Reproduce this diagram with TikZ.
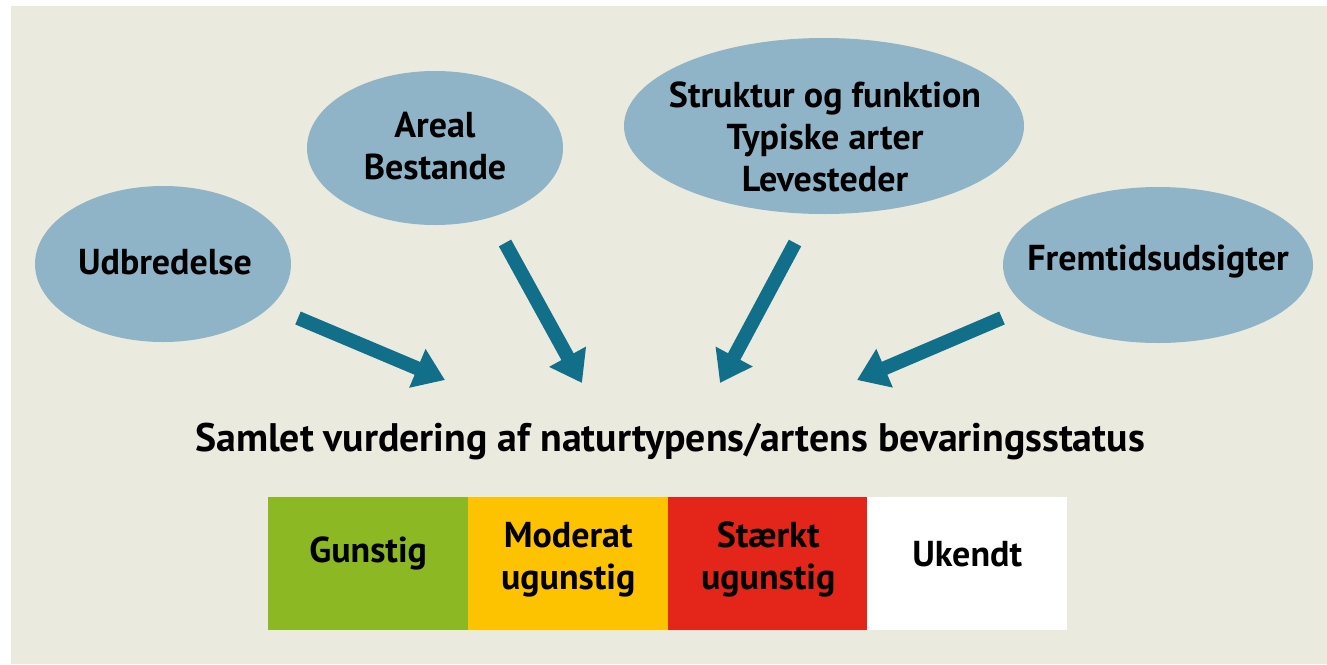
\documentclass[tikz,border=0pt]{standalone}
\usepackage{fontspec}
\setmainfont{PT Sans}
\usetikzlibrary{shapes.geometric,arrows.meta}
\definecolor{bgbeige}{HTML}{EBEADF}
\definecolor{blobblue}{HTML}{8FB3C7}
\definecolor{arrowteal}{HTML}{116F8A}
\definecolor{gunstig}{HTML}{8CB823}
\definecolor{moderat}{HTML}{FDC300}
\definecolor{staerkt}{HTML}{E3251A}
\begin{document}
\begin{tikzpicture}[x=1pt,y=-1pt,
  blob/.style={ellipse,fill=blobblue,inner sep=0pt},
  blobtext/.style={font=\bfseries\fontsize{36}{42}\selectfont,align=center,inner sep=0pt},
  pointer/.style={line width=14pt,draw=arrowteal,-{Triangle[length=30pt,width=40pt]}},
  statbox/.style={minimum width=200pt,minimum height=133pt,inner sep=0pt,anchor=north west}]
\useasboundingbox (0,0) rectangle (1327,664);
\fill[bgbeige] (11,6) rectangle (1327,664);
% ellipses
\node[blob,minimum width=256pt,minimum height=156pt] (udbr) at (163,264) {};
\node[blob,minimum width=256pt,minimum height=154pt] (areal) at (435,148) {};
\node[blob,minimum width=400pt,minimum height=176pt] (struk) at (824,126) {};
\node[blob,minimum width=310pt,minimum height=156pt] (fremt) at (1158,265) {};
\node[blobtext] (udbrtxt) at (165,262) {Udbredelse};
\node[blobtext] (arealtxt) at (435,146) {Areal\\Bestande};
\node[blobtext] (struktxt) at (825,137) {Struktur og funktion\\Typiske arter\\Levesteder};
\node[blobtext] (fremttxt) at (1158,262) {Fremtidsudsigter};
% arrows
\coordinate (s1) at (298,318); \coordinate (e1) at (445,380);
\coordinate (s2) at (505,243); \coordinate (e2) at (582,383);
\coordinate (s3) at (795,243); \coordinate (e3) at (720,383);
\coordinate (s4) at (1002,318); \coordinate (e4) at (857,380);
\foreach \i in {1,...,4}
  \draw[pointer] (s\i) -- (e\i);
% title
\node[blobtext,font=\bfseries\fontsize{39.8}{46}\selectfont] (samlet) at (670,442)
  {Samlet vurdering af naturtypens/artens bevaringsstatus};
% status boxes
\node[statbox,fill=gunstig] (gun) at (268,497) {};
\node[statbox,fill=moderat] (mod) at (468,497) {};
\node[statbox,fill=staerkt] (stae) at (668,497) {};
\node[statbox,fill=white] (uk) at (867,497) {};
\node[blobtext] at ([yshift=10pt]gun.center) {Gunstig};
\node[blobtext] at ([yshift=4pt]mod.center) {Moderat\\ugunstig};
\node[blobtext] at ([yshift=4pt]stae.center) {Stærkt\\ugunstig};
\node[blobtext] at ([yshift=10pt]uk.center) {Ukendt};
\end{tikzpicture}
\end{document}
